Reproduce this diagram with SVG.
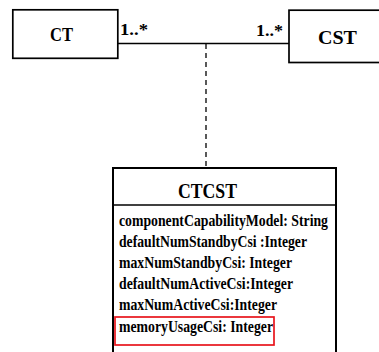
<svg xmlns="http://www.w3.org/2000/svg" width="379" height="352" viewBox="0 0 379 352">
  <style>
    .box { fill: #fff; stroke: #000; }
    .lbl { font-family: "Liberation Serif", "Times New Roman", serif; font-weight: bold; fill: #000; }
    .attr { font-size: 16.6px; }
    .conn { fill: none; stroke: #000; }
  </style>
  <rect width="379" height="352" fill="#fff"/>

  <!-- connectors -->
  <g id="connectors">
    <line class="conn" x1="118" y1="43.5" x2="289" y2="43.5" stroke-width="1.6"/>
    <line class="conn" x1="206" y1="44" x2="206" y2="167" stroke-width="1.3" stroke-dasharray="5,4"/>
    <text class="lbl" x="120" y="35" font-size="17" textLength="28" lengthAdjust="spacingAndGlyphs">1..*</text>
    <text class="lbl" x="256" y="36" font-size="17" textLength="27" lengthAdjust="spacingAndGlyphs">1..*</text>
  </g>

  <!-- class CT -->
  <g id="CT">
    <rect class="box" x="12.8" y="9.8" width="105" height="48.5" stroke-width="1.7"/>
    <text class="lbl" x="50" y="41" font-size="18.5" textLength="23" lengthAdjust="spacingAndGlyphs">CT</text>
  </g>

  <!-- class CST -->
  <g id="CST">
    <rect class="box" x="289" y="10.2" width="100" height="52.3" stroke-width="1.7"/>
    <text class="lbl" x="318" y="43.5" font-size="18.5" textLength="39" lengthAdjust="spacingAndGlyphs">CST</text>
  </g>

  <!-- association class CTCST -->
  <g id="CTCST">
    <rect class="box" x="113" y="168" width="223" height="200" stroke-width="2"/>
    <line x1="113" y1="205" x2="336" y2="205" stroke="#000" stroke-width="1.3"/>
    <text class="lbl" x="178" y="198" font-size="20.5" textLength="59" lengthAdjust="spacingAndGlyphs">CTCST</text>
    <text class="lbl attr" x="119" y="226" textLength="209" lengthAdjust="spacingAndGlyphs">componentCapabilityModel: String</text>
    <text class="lbl attr" x="119" y="247" textLength="188" lengthAdjust="spacingAndGlyphs">defaultNumStandbyCsi :Integer</text>
    <text class="lbl attr" x="119" y="268" textLength="173" lengthAdjust="spacingAndGlyphs">maxNumStandbyCsi: Integer</text>
    <text class="lbl attr" x="119" y="289" textLength="174" lengthAdjust="spacingAndGlyphs">defaultNumActiveCsi:Integer</text>
    <text class="lbl attr" x="119" y="310" textLength="158" lengthAdjust="spacingAndGlyphs">maxNumActiveCsi:Integer</text>
    <text class="lbl attr" x="119" y="332" textLength="154" lengthAdjust="spacingAndGlyphs">memoryUsageCsi: Integer</text>
    <rect x="115" y="317" width="159" height="28" fill="none" stroke="#e8141c" stroke-width="1.7"/>
  </g>
</svg>
